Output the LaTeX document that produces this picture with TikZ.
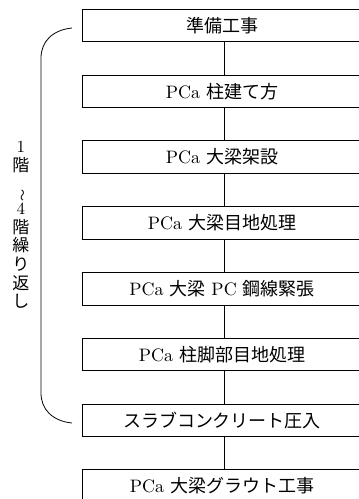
\documentclass[tikz,border=0pt]{standalone}
\usepackage{fontspec}
\usepackage{graphicx}
\setmainfont{lmroman10-regular}[Extension=.otf]
\newfontfamily\cjk{Noto Sans CJK JP}
\begin{document}
\begin{tikzpicture}[x=1pt,y=-1pt,
  stepbox/.style={draw, line width=0.9pt, minimum width=280pt, minimum height=32.5pt, inner sep=0pt, font=\fontsize{18}{20}\selectfont},
  link/.style={line width=0.8pt},
  bracket/.style={line width=0.8pt}]
\path[use as bounding box] (0,0) rectangle (359,499);
\clip (0,0) rectangle (359,499);
\node[stepbox] (s1) at (222,25.5) {{\cjk 準備工事}};
\node[stepbox] (s2) at (222,91.3) {PCa {\cjk 柱建て方}};
\node[stepbox] (s3) at (222,157.1) {PCa {\cjk 大梁架設}};
\node[stepbox] (s4) at (222,222.9) {PCa {\cjk 大梁目地処理}};
\node[stepbox] (s5) at (222,288.7) {PCa {\cjk 大梁} PC {\cjk 鋼線緊張}};
\node[stepbox] (s6) at (222,354.5) {PCa {\cjk 柱脚部目地処理}};
\node[stepbox] (s7) at (222,420.3) {{\cjk スラブコンクリート圧入}};
\node[stepbox] (s8) at (222,486.1) {PCa {\cjk 大梁グラウト工事}};
\foreach \a/\b in {s1/s2,s2/s3,s3/s4,s4/s5,s5/s6,s6/s7,s7/s8}
  \draw[link] ([xshift=2pt]\a.south) -- ([xshift=2pt]\b.north);
\coordinate (bt) at (72,28);
\coordinate (bb) at (72,423);
\draw[bracket] (bt) .. controls (52,30) and (41,42) .. (41,58) -- (41,393) .. controls (41,409) and (52,421) .. (bb);
\node[align=center, inner sep=0pt, font=\fontsize{17}{18.7}\selectfont] (rep) at (21,225)
  {1\\{\cjk 階}\\\rotatebox{-90}{\cjk\fontsize{12}{12}\selectfont 〜}\\4\\{\cjk 階}\\{\cjk 繰}\\{\cjk り}\\{\cjk 返}\\{\cjk し}};
\end{tikzpicture}
\end{document}
